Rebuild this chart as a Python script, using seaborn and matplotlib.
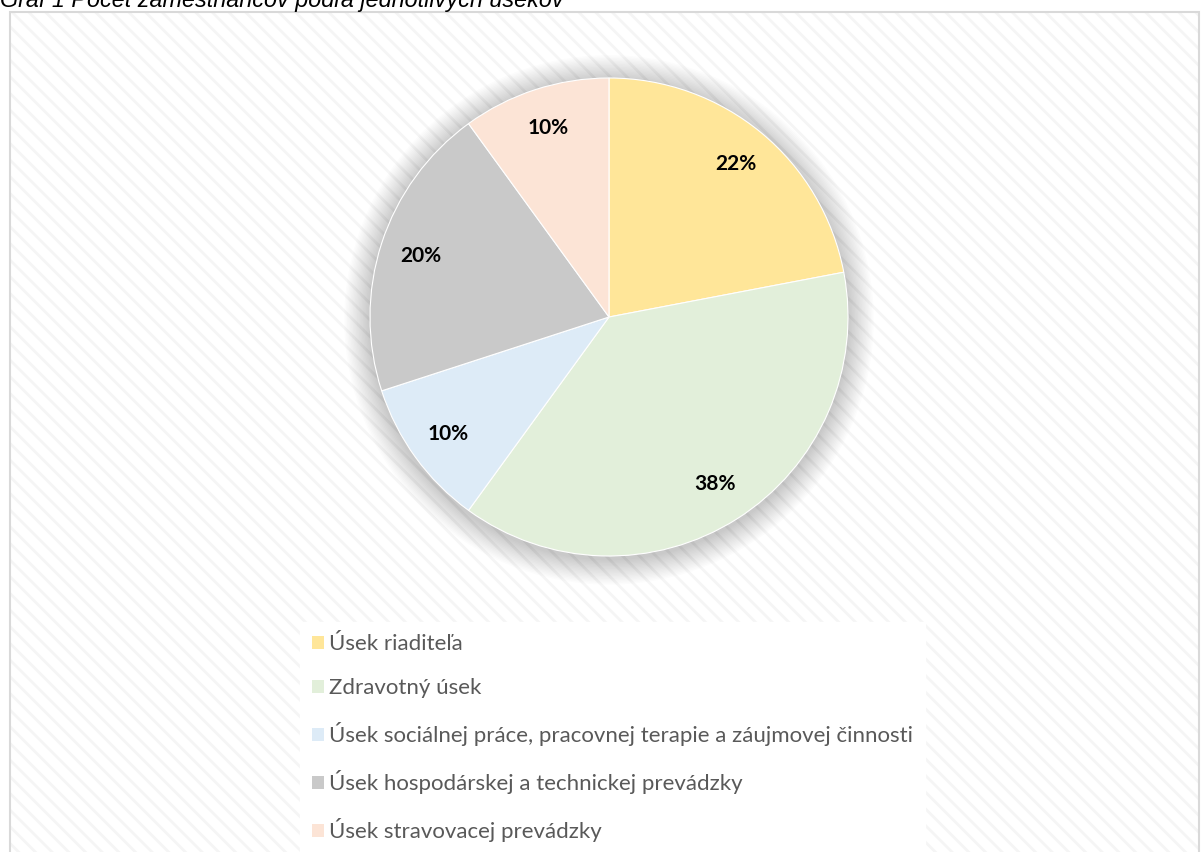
import matplotlib
matplotlib.use("Agg")
import matplotlib.pyplot as plt
from matplotlib.patches import Rectangle, Circle
import seaborn as sns

categories = [
    "Úsek riaditeľa",
    "Zdravotný úsek",
    "Úsek sociálnej práce, pracovnej terapie a záujmovej činnosti",
    "Úsek hospodárskej a technickej prevádzky",
    "Úsek stravovacej prevádzky",
]
values = [22, 38, 10, 20, 10]
colors = ["#FFE699", "#E2EFDA", "#DDEBF7", "#C9C9C9", "#FCE4D6"]
title = "Graf 1 Počet zamestnancov podľa jednotlivých úsekov"

sns.set_theme(style="white")
plt.rcParams["font.family"] = ["Lato", "DejaVu Sans"]
plt.rcParams["hatch.linewidth"] = 2.0

W, H = 1201, 852
fig = plt.figure(figsize=(W / 100, H / 100), dpi=100)
fig.patch.set_facecolor("white")

# hatched chart area background
x0, y0top = 10, 12
bg = Rectangle((x0 / W, 0), (W - 2 - x0) / W, (H - y0top) / H, transform=fig.transFigure,
               facecolor="white", edgecolor="#F5F5F5", hatch="\\\\", linewidth=0, zorder=-5)
fig.patches.append(bg)
border = Rectangle((x0 / W, -0.01), (W - 2 - x0) / W, (H - y0top) / H + 0.01, transform=fig.transFigure,
                   facecolor="none", edgecolor="#D9D9D9", linewidth=1.5, zorder=-4)
fig.patches.append(border)

fig.text(0.0, (H - 7.5) / H, title, fontsize=16.8, style="italic",
         family=["Liberation Sans", "DejaVu Sans"], color="black", va="baseline", ha="left")

# pie axes
cx, cy, r = 609, H - 317, 239
half = r * 1.2
ax = fig.add_axes([(cx - half) / W, (cy - half) / H, 2 * half / W, 2 * half / H])
ax.set_zorder(2)
ax.patch.set_visible(False)
ax.axis("off")

# soft shadow glow
n = 18
for i in range(n):
    k = 1 + 0.006 * (n - i)
    ax.add_patch(Circle((0.0, -0.012), k, facecolor="#000000", alpha=0.01, lw=0, zorder=1))

wedges, texts, autotexts = ax.pie(
    values, colors=colors, startangle=90, counterclock=False,
    autopct=lambda p: f"{p:.0f}%", pctdistance=0.83,
    wedgeprops=dict(edgecolor="white", linewidth=0.8),
    textprops=dict(fontsize=15, fontweight="bold", color="black"),
)
for w in wedges:
    w.set_zorder(2)
for t in autotexts:
    t.set_zorder(3)
ax.set_xlim(-1.2, 1.2)
ax.set_ylim(-1.2, 1.2)
ax.set_aspect("equal")

leg = fig.legend(wedges, categories, loc="upper left",
                 bbox_to_anchor=(300 / W, (H - 622) / H), frameon=True,
                 facecolor="white", edgecolor="white", fancybox=False, framealpha=1,
                 fontsize=16.0, labelcolor="#595959", handlelength=0.55, handleheight=0.55,
                 handletextpad=0.2, labelspacing=1.08, borderpad=0.55, borderaxespad=0)
leg.set_zorder(3)
for h in leg.legend_handles:
    h.set_edgecolor("none")

fig.savefig("out.png", dpi=100, facecolor="white")
